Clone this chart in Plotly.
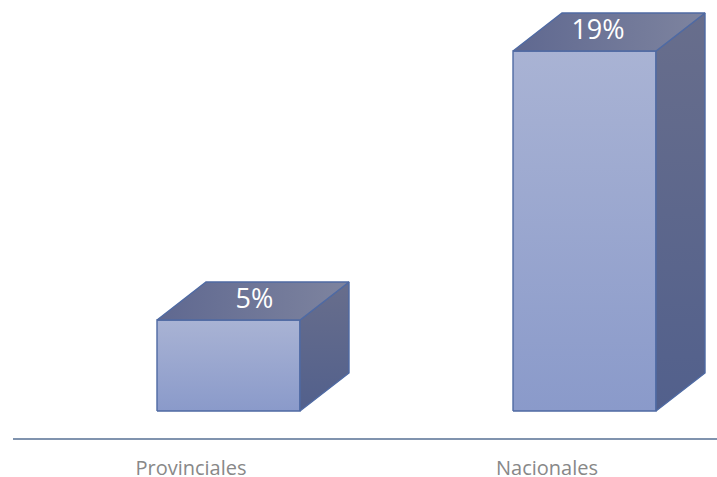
import plotly.graph_objects as go

categories = ["Provinciales", "Nacionales"]
values = [4.8, 19.0]
value_labels = ["5%", "19%"]

# geometry in axis units (constant offsets of the drawn 3D box)
PX_X = 1 / 356
PX_Y = 1 / 18.95
half_w = 71.5 * PX_X
shift = 37.5 * PX_X
dx = 49 * PX_X
dy = 38 * PX_Y
label_nudge = [1.5 * PX_X, -11 * PX_X]

EDGE = "#4F6AA3"
fig = go.Figure()


def face(xs, ys, c0, c1, kind="vertical"):
    fig.add_trace(go.Scatter(
        x=xs, y=ys, mode="lines", fill="toself",
        line=dict(color=EDGE, width=1.4),
        fillgradient=dict(type=kind, colorscale=[[0, c0], [1, c1]]),
        hoverinfo="skip", showlegend=False,
    ))


for i, (cat, v, lab) in enumerate(zip(categories, values, value_labels)):
    L = i + shift - half_w
    R = i + shift + half_w
    face([L, R, R, L, L], [0, 0, v, v, 0], "#8A9ACA", "#A9B3D4")
    face([R, R + dx, R + dx, R, R], [0, dy, v + dy, v, 0], "#52608C", "#686E8C")
    face([L, R, R + dx, L + dx, L], [v, v, v + dy, v + dy, v], "#5F6890", "#7E849F", "horizontal")
    fig.add_trace(go.Scatter(
        x=[i + shift + dx / 2 + label_nudge[i]], y=[v + dy / 2], mode="text", text=[lab],
        textposition="middle center",
        textfont=dict(family="Open Sans", size=27, color="#FFFFFF"),
        hoverinfo="skip", showlegend=False,
    ))

fig.update_layout(
    width=717, height=477, autosize=False,
    margin=dict(l=13, r=0, t=0, b=39, pad=0),
    paper_bgcolor="#FFFFFF", plot_bgcolor="#FFFFFF",
    showlegend=False,
    xaxis=dict(
        automargin=False,
        range=[-0.50, 1.4775], tickmode="array", tickvals=[0, 1], ticktext=categories,
        showgrid=False, zeroline=False, showline=True, linecolor="#8093AE", linewidth=2,
        ticks="outside", ticklen=11, tickcolor="rgba(0,0,0,0)",
        tickfont=dict(family="Open Sans", size=20, color="#888888"),
    ),
    yaxis=dict(automargin=False, range=[-1.425, 21.69], visible=False),
)
fig.write_html(
    "out.html",
    config=dict(displayModeBar=False),
    post_script="document.body.style.margin='0';document.documentElement.style.overflow='hidden';",
)
